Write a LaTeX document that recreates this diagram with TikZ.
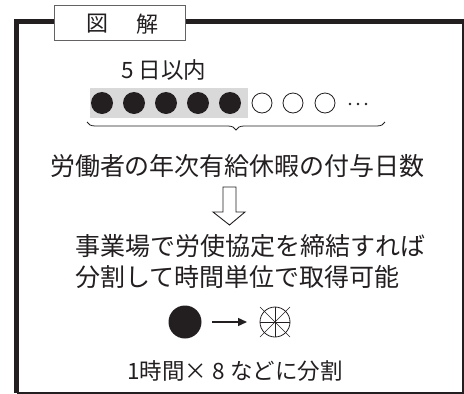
\documentclass[tikz,border=0pt]{standalone}
\usepackage{fontspec}
\newfontfamily\jp{Noto Sans CJK JP}
\usetikzlibrary{arrows.meta,decorations.pathreplacing,calc}
\definecolor{ink}{HTML}{231F20}
\definecolor{lightgr}{HTML}{D9D9D9}
\tikzset{
  txt/.style={inner sep=0pt, text=ink, font=\jp},
  full/.style={circle, fill=ink, draw=none, minimum size=22pt, inner sep=0pt},
  empty/.style={circle, draw=ink, line width=0.8pt, minimum size=20pt, inner sep=0pt},
}
\begin{document}
\begin{tikzpicture}[x=1pt,y=-1pt]
\useasboundingbox (0,0) rectangle (464,394);
% frame
\draw[ink, line width=2pt] (463,21.5) -- (463,392.5) -- (16.5,392.5);
\draw[ink, line width=5pt] (16.5,392.5) -- (16.5,21.5) -- (464,21.5);
% title tab
\node[draw=ink!70, line width=0.8pt, fill=white, minimum width=131pt, minimum height=35pt, inner sep=0pt] (tab) at (119.5,22.5) {};
\node[txt, font=\jp\fontsize{22}{22}\selectfont] (t1) at (97,24) {図};
\node[txt, font=\jp\fontsize{22}{22}\selectfont] (t2) at (147,24) {解};
% 5 days
\node[txt, font=\jp\fontsize{22.5}{22.5}\selectfont, anchor=west] (five) at (121,70) {5 日以内};
\fill[lightgr] (90,88) rectangle (248,118);
\foreach \i/\x in {1/102,2/134,3/166,4/198,5/230} \node[full] (f\i) at (\x,103) {};
\foreach \i/\x in {1/262,2/293,3/325} \node[empty] (e\i) at (\x,103) {};
\foreach \i/\x in {1/350,2/358,3/366} \fill[ink] (\x,104) circle (1.3pt);
% brace
\coordinate (bl) at (87,122);
\coordinate (br) at (385,122);
\draw[ink, line width=0.8pt, decorate, decoration={brace, mirror, amplitude=8pt, aspect=0.5, raise=0pt}] (bl) -- (br);
\node[txt, font=\jp\fontsize{25}{25}\selectfont] (days) at (237.5,166) {労働者の年次有給休暇の付与日数};
% hollow arrow
\draw[ink, line width=0.9pt, fill=white] (223,187) -- (236,187) -- (236,212) -- (245,212) -- (229.5,225) -- (213,212) -- (223,212) -- cycle;
\node[txt, font=\jp\fontsize{25}{25}\selectfont, anchor=west] (l1) at (75,246) {事業場で労使協定を締結すれば};
\node[txt, font=\jp\fontsize{25}{25}\selectfont, anchor=west] (l2) at (75,277) {分割して時間単位で取得可能};
% circle -> split
\node[circle, fill=ink, minimum size=33pt, inner sep=0pt] (big) at (185,322) {};
\node[circle, draw=ink, line width=0.8pt, minimum size=30pt, inner sep=0pt] (split) at (275,322) {};
\draw[ink, line width=0.6pt] (split.north) -- (split.south) (split.west) -- (split.east);
\draw[ink, line width=0.6pt] ($(split.center)+(-15,-15)$) -- ($(split.center)+(15,15)$);
\draw[ink, line width=0.6pt] ($(split.center)+(-15,15)$) -- ($(split.center)+(15,-15)$);
\draw[ink, line width=1.5pt, -{Triangle[length=9pt,width=8pt]}] (212,322) -- (247,322);
\node[txt, font=\jp\fontsize{22.5}{22.5}\selectfont] (bottom) at (235,371) {1時間× 8 などに分割};
\end{tikzpicture}
\end{document}
